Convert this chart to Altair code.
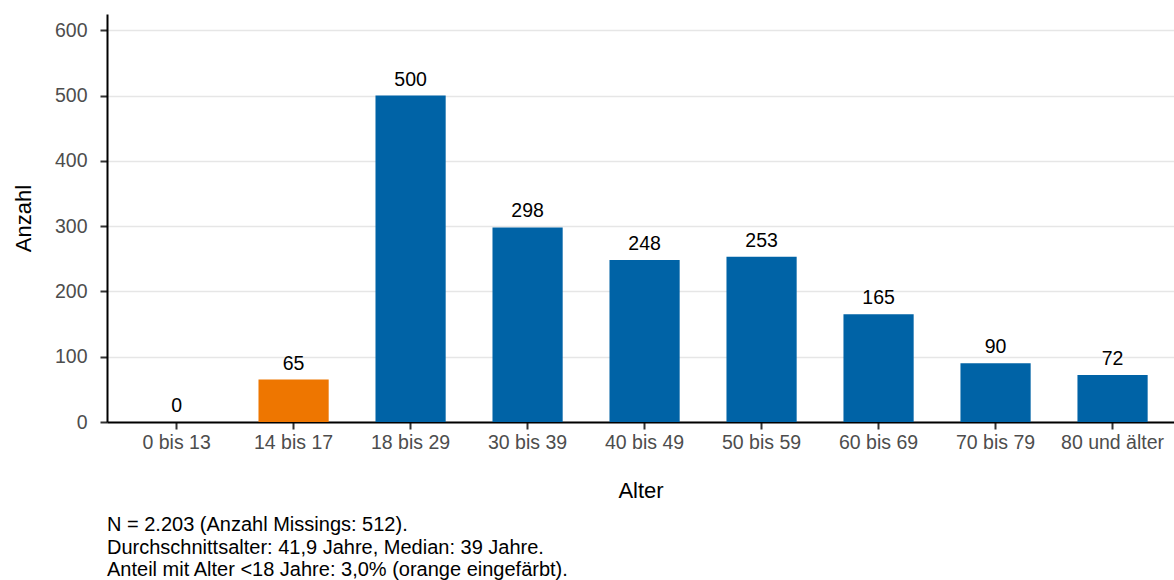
import altair as alt
import pandas as pd

# Altersgruppen und Fallzahlen
alter = ["0 bis 13", "14 bis 17", "18 bis 29", "30 bis 39", "40 bis 49",
         "50 bis 59", "60 bis 69", "70 bis 79", "80 und älter"]
anzahl = [0, 65, 500, 298, 248, 253, 165, 90, 72]
unter_18 = ["0 bis 13", "14 bis 17"]

caption_lines = [
    "N = 2.203 (Anzahl Missings: 512).",
    "Durchschnittsalter: 41,9 Jahre, Median: 39 Jahre.",
    "Anteil mit Alter <18 Jahre: 3,0% (orange eingefärbt).",
]

BLUE = "#0063A6"
ORANGE = "#EE7600"
FONT = "Liberation Sans"
TICK_FS = 19.5
TITLE_FS = 22

df = pd.DataFrame({"Alter": alter, "Anzahl": anzahl})
cap_df = pd.DataFrame({"t": ["\n".join(caption_lines)]})

x_enc = alt.X(
    "Alter:N",
    sort=alter,
    scale=alt.Scale(paddingInner=0.4, paddingOuter=0.26, align=0.567),
    axis=alt.Axis(
        title="Alter",
        labelAngle=0,
        labelFontSize=TICK_FS,
        labelColor="#4d4d4d",
        labelFont=FONT,
        labelPadding=4,
        tickSize=7,
        tickColor="#333333",
        tickWidth=2,
        domainColor="black",
        domainWidth=2,
        titleFontSize=TITLE_FS,
        titleFont=FONT,
        titleFontWeight="normal",
        titleColor="black",
        titleY=68,
        titleBaseline="middle",
        grid=False,
    ),
)

y_enc = alt.Y(
    "Anzahl:Q",
    scale=alt.Scale(domain=[0, 625], nice=False, zero=True),
    axis=alt.Axis(
        title="Anzahl",
        values=[0, 100, 200, 300, 400, 500, 600],
        labelFontSize=TICK_FS,
        labelColor="#4d4d4d",
        labelFont=FONT,
        labelPadding=13,
        tickSize=7,
        tickColor="#333333",
        tickWidth=2,
        domainColor="black",
        domainWidth=2,
        grid=True,
        gridColor="#E6E6E6",
        gridWidth=1.3,
        titleFontSize=TITLE_FS,
        titleFont=FONT,
        titleFontWeight="normal",
        titleColor="black",
        titleAngle=-90,
        titleX=-84,
        titleY=204,
        titleBaseline="middle",
    ),
)

base = alt.Chart(df)

bars = base.mark_bar().encode(
    x=x_enc,
    y=y_enc,
    color=alt.condition(
        alt.FieldOneOfPredicate(field="Alter", oneOf=unter_18),
        alt.value(ORANGE),
        alt.value(BLUE),
    ),
)

labels = base.mark_text(
    baseline="alphabetic", dy=-10, fontSize=TICK_FS, font=FONT, color="black"
).encode(
    x=alt.X("Alter:N", sort=alter),
    y=alt.Y("Anzahl:Q"),
    text=alt.Text("Anzahl:Q"),
)

caption = alt.Chart(cap_df).mark_text(
    align="left", baseline="alphabetic", lineBreak="\n", lineHeight=22.5,
    fontSize=20, font=FONT, color="black"
).encode(
    x=alt.value(0),
    y=alt.value(517),
    text="t:N",
)

chart = alt.layer(bars, labels, caption).properties(
    width=1067,
    height=408,
    padding={"left": 107, "top": 14, "right": 0, "bottom": 158},
    autosize=alt.AutoSizeParams(type="none"),
    background="white",
).configure_view(stroke=None)

chart.save("out.html", embed_options={"renderer": "svg", "actions": False})
